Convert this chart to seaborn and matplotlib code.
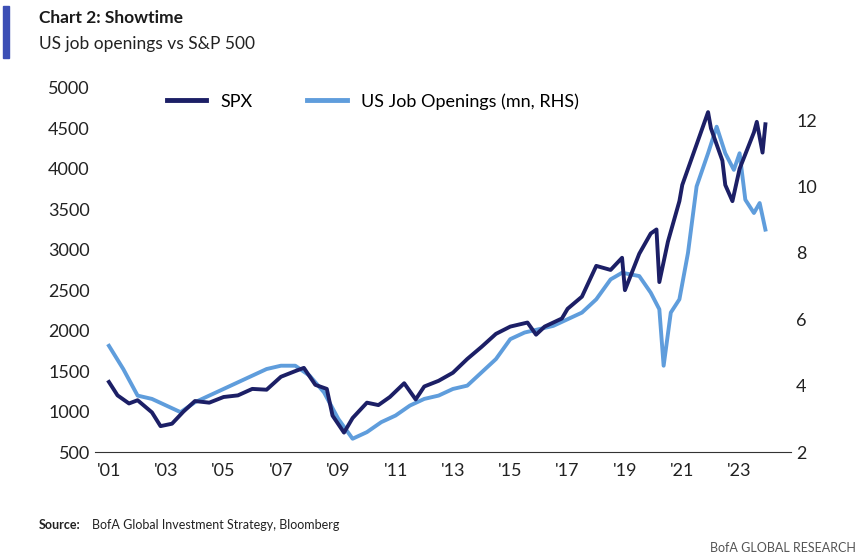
import matplotlib
matplotlib.use("Agg")
import matplotlib.pyplot as plt
import seaborn as sns
import pandas as pd

plt.rcParams["font.family"] = "Lato"

spx_t = [2001.0,2001.3,2001.7,2002.0,2002.5,2002.8,2003.2,2003.6,2004.0,2004.5,2005.0,2005.5,2006.0,2006.5,2007.0,2007.5,2007.8,2008.2,2008.6,2008.8,2009.2,2009.5,2010.0,2010.4,2010.8,2011.3,2011.7,2012.0,2012.5,2013.0,2013.5,2014.0,2014.5,2015.0,2015.6,2015.9,2016.2,2016.8,2017.0,2017.5,2018.0,2018.5,2018.9,2019.0,2019.5,2019.9,2020.1,2020.2,2020.5,2020.9,2021.0,2021.5,2021.9,2022.0,2022.4,2022.5,2022.75,2023.0,2023.5,2023.6,2023.8,2023.9]
spx_v = [1366,1200,1100,1140,990,820,850,1000,1130,1110,1180,1200,1280,1270,1430,1500,1540,1330,1280,950,740,920,1110,1080,1180,1350,1150,1310,1380,1480,1650,1800,1960,2050,2100,1950,2050,2150,2270,2420,2800,2750,2900,2500,2950,3200,3250,2600,3100,3600,3800,4300,4700,4500,4100,3800,3600,4000,4450,4580,4200,4550]

job_t = [2001.0,2001.5,2002.0,2002.5,2003.0,2003.5,2004.0,2004.5,2005.0,2005.5,2006.0,2006.5,2007.0,2007.5,2008.0,2008.5,2009.0,2009.5,2010.0,2010.5,2011.0,2011.5,2012.0,2012.5,2013.0,2013.5,2014.0,2014.5,2015.0,2015.5,2016.0,2016.5,2017.0,2017.5,2018.0,2018.5,2018.9,2019.5,2019.9,2020.2,2020.35,2020.6,2020.9,2021.2,2021.5,2021.9,2022.2,2022.5,2022.8,2023.0,2023.2,2023.5,2023.7,2023.9]
job_v = [5.2,4.5,3.7,3.6,3.4,3.2,3.5,3.7,3.9,4.1,4.3,4.5,4.6,4.6,4.3,3.8,3.0,2.4,2.6,2.9,3.1,3.4,3.6,3.7,3.9,4.0,4.4,4.8,5.4,5.6,5.7,5.8,6.0,6.2,6.6,7.2,7.4,7.3,6.8,6.3,4.6,6.2,6.6,8.0,10.0,11.0,11.8,11.0,10.5,11.0,9.6,9.2,9.5,8.7]

xt = list(range(2001, 2024, 2))
xl = ["'%02d" % (y % 100) for y in xt]

navy = "#1c1f66"
light = "#5f9ddc"

fig = plt.figure(figsize=(8.6, 5.56), dpi=100)
ax = fig.add_axes([0.11, 0.187, 0.81, 0.655])
ax2 = ax.twinx()
sns.lineplot(x=job_t, y=job_v, ax=ax2, color=light, lw=2.8)
sns.lineplot(x=spx_t, y=spx_v, ax=ax, color=navy, lw=2.8)
ax.set_zorder(ax2.get_zorder() + 1)
ax.patch.set_visible(False)

ax.set_ylim(500, 5000)
ax2.set_ylim(2, 12.97)
ax.set_xlim(2000.5, 2024.8)
ax.set_xticks(xt)
ax.set_xticklabels(xl)
ax.set_yticks(range(500, 5001, 500))
ax2.set_yticks(range(2, 13, 2))
for a in (ax, ax2):
    for s in a.spines.values():
        s.set_visible(False)
    a.tick_params(length=0, labelsize=13, colors="#222222")
ax.spines["bottom"].set_visible(True)
ax.spines["bottom"].set_color("#333333")
ax.tick_params(axis="x", pad=8)

ax.plot([], [], color=navy, lw=3.5, label="SPX")
ax.plot([], [], color=light, lw=3.5, label="US Job Openings (mn, RHS)")
ax.legend(loc="upper left", bbox_to_anchor=(0.08, 1.03), ncol=2, frameon=False,
          fontsize=13, handlelength=2.2, columnspacing=3)

fig.patches.append(plt.Rectangle((0.004, 0.895), 0.006, 0.095, transform=fig.transFigure, color="#3c4fb5"))
fig.text(0.045, 0.958, "Chart 2: Showtime", fontsize=12.5, fontweight="bold", color="#1a1a1a")
fig.text(0.045, 0.912, "US job openings vs S&P 500", fontsize=12.5, color="#222222")
fig.text(0.045, 0.048, "Source:", fontsize=9, fontweight="bold", color="#222222")
fig.text(0.107, 0.048, "BofA Global Investment Strategy, Bloomberg", fontsize=9, color="#222222")
fig.text(0.995, 0.008, "BofA GLOBAL RESEARCH", fontsize=9, color="#555555", ha="right")
fig.savefig("out.png", dpi=100)
